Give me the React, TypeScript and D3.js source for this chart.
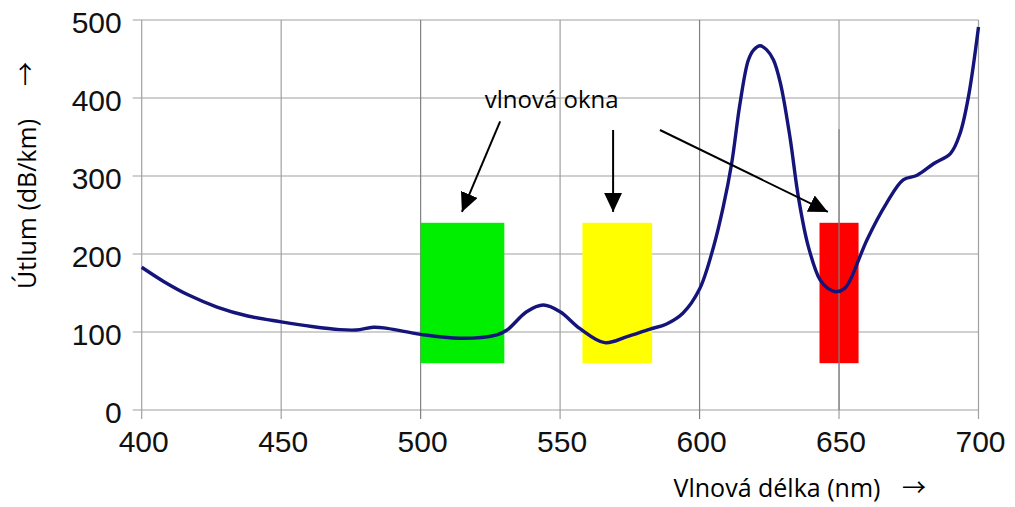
// @ts-nocheck
import React, { useRef, useEffect } from "react";
import * as d3 from "d3";

// attenuation curve
const wavelength = [400, 408, 417, 427, 438, 450, 461, 471, 477, 483, 488, 500, 514, 527, 531, 538, 544, 550, 557, 566, 574, 582, 588, 594, 600, 605, 608.5, 611.5, 614.5, 617.5, 619.5, 621.7, 624, 626.5, 629, 632.4, 635.4, 639, 643.2, 646, 649.2, 652, 654, 660, 667, 673, 678, 684, 690, 693.4, 696.4, 700];
const attenuation = [183, 164.5, 147, 132, 120.5, 113, 107, 103, 102.6, 106, 104.7, 97, 92, 96, 102.6, 126, 134.6, 126, 104.7, 86.3, 94, 103.5, 110, 124, 155, 209, 260.6, 316, 393, 448.7, 462, 467, 462, 448.7, 418.8, 350, 273.5, 209.4, 166.7, 156, 151.7, 156, 166.7, 218, 265, 295, 301, 316, 329, 354.7, 401.7, 491];

const xTicks = [400, 450, 500, 550, 600, 650, 700];
const yTicks = [0, 100, 200, 300, 400, 500];

// transmission windows
const windowStart = [500, 558, 643];
const windowEnd = [530, 583, 657];
const windowColor = ["#00ee00", "#ffff00", "#ff0000"];
const windowLow = 60;
const windowHigh = 240;

// annotation arrows (data units)
const arrowFrom = [[528.5, 370], [569, 359], [585.8, 359]];
const arrowTo = [[514.8, 254], [569, 254], [646, 254]];
const labelPos = [547, 397];

const W = 1015;
const H = 507;
const margin = { left: 141.7, right: 36.5, top: 20, bottom: 97 };

const Chart = () => {
  const ref = useRef(null);

  useEffect(() => {
    const svg = d3.select(ref.current);
    svg.selectAll("*").remove();

    const x = d3.scaleLinear().domain([400, 700]).range([margin.left, W - margin.right]);
    const y = d3.scaleLinear().domain([0, 500]).range([H - margin.bottom, margin.top]);

    const defs = svg.append("defs");
    defs
      .append("marker")
      .attr("id", "head")
      .attr("markerUnits", "userSpaceOnUse")
      .attr("markerWidth", 20)
      .attr("markerHeight", 18)
      .attr("viewBox", "0 0 20 18")
      .attr("refX", 19)
      .attr("refY", 9)
      .attr("orient", "auto")
      .append("path")
      .attr("d", "M0,0 L19,9 L0,18 Z")
      .attr("fill", "#000");

    const grid = svg.append("g").attr("stroke", "#a0a0a0").attr("stroke-width", 1.2);
    yTicks.forEach((t) => {
      grid
        .append("line")
        .attr("x1", x(400) - 9)
        .attr("x2", x(700))
        .attr("y1", y(t))
        .attr("y2", y(t));
    });
    xTicks.forEach((t) => {
      grid
        .append("line")
        .attr("x1", x(t))
        .attr("x2", x(t))
        .attr("y1", y(500))
        .attr("y2", y(0) + 9)
        .attr("stroke", t === 500 || t === 600 ? "#808080" : null);
    });

    // windows
    windowStart.forEach((s, i) => {
      svg
        .append("rect")
        .attr("x", x(s))
        .attr("width", x(windowEnd[i]) - x(s))
        .attr("y", y(windowHigh))
        .attr("height", y(windowLow) - y(windowHigh))
        .attr("fill", windowColor[i]);
    });
    // grid line visible through red window
    svg
      .append("line")
      .attr("x1", x(650))
      .attr("x2", x(650))
      .attr("y1", y(360))
      .attr("y2", y(0))
      .attr("stroke", "#808080")
      .attr("stroke-width", 1.2);

    const line = d3
      .line()
      .x((d) => x(d[0]))
      .y((d) => y(d[1]))
      .curve(d3.curveCatmullRom.alpha(0.5));

    svg
      .append("path")
      .datum(wavelength.map((w, i) => [w, attenuation[i]]))
      .attr("d", line)
      .attr("fill", "none")
      .attr("stroke", "#14147a")
      .attr("stroke-width", 3.4)
      .attr("stroke-linejoin", "round");

    // arrows
    arrowFrom.forEach((f, i) => {
      svg
        .append("line")
        .attr("x1", x(f[0]))
        .attr("y1", y(f[1]))
        .attr("x2", x(arrowTo[i][0]))
        .attr("y2", y(arrowTo[i][1]))
        .attr("stroke", "#000")
        .attr("stroke-width", 2)
        .attr("marker-end", "url(#head)");
    });

    svg
      .append("text")
      .attr("x", x(labelPos[0]))
      .attr("y", y(labelPos[1]) + 8)
      .attr("text-anchor", "middle")
      .attr("font-family", "Open Sans")
      .attr("font-size", 24)
      .text("vlnová okna");

    const tickFont = "Liberation Sans, Arial, sans-serif";
    yTicks.forEach((t) => {
      svg
        .append("text")
        .attr("x", x(400) - 20)
        .attr("y", y(t) + 13)
        .attr("text-anchor", "end")
        .attr("font-family", tickFont)
        .attr("font-size", 30)
        .attr("fill", "#111")
        .text(t);
    });
    xTicks.forEach((t) => {
      svg
        .append("text")
        .attr("x", x(t) + 2)
        .attr("y", y(0) + 42)
        .attr("text-anchor", "middle")
        .attr("font-family", tickFont)
        .attr("font-size", 30)
        .attr("fill", "#111")
        .text(t);
    });

    // axis titles
    svg
      .append("text")
      .attr("transform", "translate(36,204) rotate(-90)")
      .attr("text-anchor", "middle")
      .attr("font-family", "Open Sans")
      .attr("font-size", 25)
      .text("Útlum (dB/km)");
    svg
      .append("text")
      .attr("transform", "translate(34,74) rotate(-90)")
      .attr("text-anchor", "middle")
      .attr("font-family", "Noto Sans CJK SC")
      .attr("font-size", 24)
      .text("→");

    svg
      .append("text")
      .attr("x", 777)
      .attr("y", 497)
      .attr("text-anchor", "middle")
      .attr("font-family", "Open Sans")
      .attr("font-size", 25)
      .text("Vlnová délka (nm)");
    svg
      .append("text")
      .attr("x", 914)
      .attr("y", 496)
      .attr("text-anchor", "middle")
      .attr("font-family", "Noto Sans CJK SC")
      .attr("font-size", 24)
      .text("→");
  }, []);

  return (
    <svg
      ref={ref}
      width={W}
      height={H}
      style={{ position: "absolute", left: 0, top: 0, background: "#fff" }}
    />
  );
};

export default function App() {
  return <Chart />;
}
